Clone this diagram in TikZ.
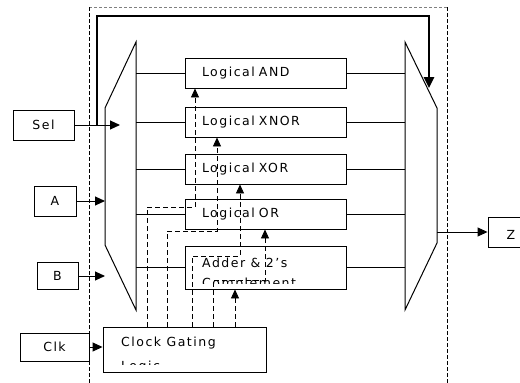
\documentclass[tikz,border=0pt]{standalone}
\usepackage{fontspec}
\setmainfont{DejaVu Sans}[LetterSpace=12]
\usepackage{tikz}
\usetikzlibrary{arrows.meta,calc}
\tikzset{
 super thick/.style={line width=2.5pt},
 tip/.style={-{Triangle[length=10pt,width=9pt]}},
 opbox/.style={draw, line width=.9pt, minimum width=161, minimum height=30, text width=127, inner xsep=17, inner ysep=0, align=left},
 inbox/.style={draw, line width=.9pt, inner sep=0, minimum height=30},
 optext/.style={inner sep=0, anchor=west},
 gated/.style={line width=.8pt, dash pattern=on 5pt off 3pt, -{Triangle[length=9pt,width=8pt]}},
 bound/.style={line width=1pt, dash pattern=on 4pt off 2pt}
}
\tikzstyle{mux}=[line width=1pt, line join=miter]
\newcommand{\gatepath}[4]{
 \draw[gated] (cg.north -| #1,0) -- (#1,#2) -| (#4.south -| #3,0);
}

\begin{document}
\begin{tikzpicture}[x=1pt, y=-1pt, font=\fontsize{12.5}{14}\selectfont]
 \useasboundingbox (0,0) rectangle (520,383);
%
 \draw[line width=.5pt, dash pattern=on 3pt off 2pt, gray] (89,7) -- (447,7);
 \draw[bound] (89,7) -- (89,383);
 \draw[bound] (447,7) -- (447,383);
%
 \coordinate (lm1) at (105,108);
 \coordinate (lm2) at (136,42);
 \coordinate (lm3) at (136,310);
 \coordinate (lm4) at (105,245);
 \coordinate (rm1) at (405,42);
 \coordinate (rm2) at (437,108);
 \coordinate (rm3) at (437,243);
 \coordinate (rm4) at (405,310);
 \draw[mux] (lm1) -- (lm2) -- (lm3) -- (lm4) -- cycle;
 \draw[mux] (rm1) -- (rm2) -- (rm3) -- (rm4) -- cycle;
%
 \node[opbox] (opand) at (265.5,73) {Logical AND};
 \node[opbox] (opxnor) at (265.5,122) {Logical XNOR};
 \node[opbox] (opxor) at (265.5,169) {Logical XOR};
 \node[opbox] (opor) at (265.5,214) {Logical OR};
 \node[opbox, minimum height=43] (opadd) at (265.5,267.5) {};
 \node[optext] (addtxt) at (202,263) {Adder \& 2's};
 \begin{scope}
  \clip (opadd.north west) rectangle (opadd.east |- 0,283);
  \node[optext] (addtxt2) at (202,284) {Complement};
 \end{scope}
%
 \draw[mux] (opand.west -| lm2) -- (opand.west);
 \draw[mux] (opxnor.west -| lm2) -- (opxnor.west);
 \draw[mux] (opxor.west -| lm2) -- (opxor.west);
 \draw[mux] (opor.west -| lm2) -- (opor.west);
 \draw[mux] (opadd.west -| lm2) -- (opadd.west);
 \draw[mux] (opand.east) -- (opand.east -| rm1);
 \draw[mux] (opxnor.east) -- (opxnor.east -| rm1);
 \draw[mux] (opxor.east) -- (opxor.east -| rm1);
 \draw[mux] (opor.east) -- (opor.east -| rm1);
 \draw[mux] (opadd.east) -- (opadd.east -| rm1);
%
 \node[inbox, minimum width=61] (sel) at (43.5,125) {Sel};
 \node[inbox, minimum width=42] (ina) at (55,201) {A};
 \node[inbox, minimum width=41, minimum height=27] (inb) at (57.5,276) {B};
 \node[inbox, minimum width=69, minimum height=28] (clk) at (54.5,347) {Clk};
 \node[inbox, minimum width=163, minimum height=45] (cg) at (184.5,349.5) {};
 \node[optext] (cgtxt) at (121,343) {Clock Gating};
 \begin{scope}
  \clip (cg.north west) rectangle (cg.east |- 0,364.5);
  \node[optext] (cgtxt2) at (121,367.5) {Logic};
 \end{scope}
 \node[inbox, minimum width=42] (z) at (509,232) {};
 \begin{scope}
  \clip (z.north west) rectangle (z.east |- 0,238.5);
  \node (ztxt) at (511,235) {Z};
 \end{scope}
%
 \coordinate (selin) at (120,125);
 \draw[mux, tip] (sel.east) -- (selin);
 \draw[mux, tip] (ina.east) -- (ina.east -| lm1);
 \draw[mux, tip] (inb.east) -- (inb.east -| lm1);
 \draw[mux, tip] (clk.east) -- (clk.east -| cg.west);
 \draw[mux, tip] (z.west -| rm2) -- (z.west);
%
 \coordinate (fb) at (97,125);
 \coordinate (fbtop) at (97,16);
 \coordinate (fbend) at (429,88);
 \draw[super thick, -{Triangle[length=11pt,width=10pt]}] (fb) -- (fbtop) -| (fbend);
%
 \gatepath{147}{207}{195}{opand}
 \gatepath{167}{231}{217}{opxnor}
 \gatepath{192}{256}{240}{opxor}
 \gatepath{213}{280}{265}{opor}
 \draw[gated] (cg.north -| 235,0) -- (opadd.south -| 235,0);
\end{tikzpicture}
\end{document}
